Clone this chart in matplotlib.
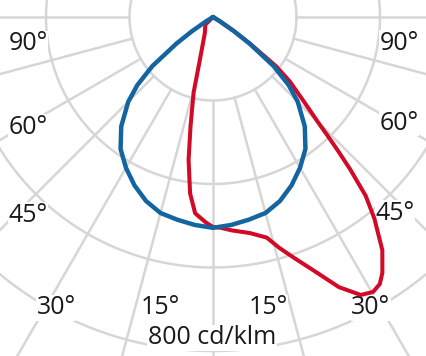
import numpy as np
import matplotlib.pyplot as plt

plt.rcParams['font.family'] = ['Open Sans', 'DejaVu Sans']

# light distribution, angle from nadir (deg) -> intensity (cd/klm)
blue_deg = [0, 5, 10, 15, 20, 25, 30, 35, 40, 45, 48, 51, 54, 56, 58, 60, 90]
blue_cd = [505, 500, 493, 486, 469, 445, 417, 386, 342, 287, 244, 187, 108, 60, 19, 0, 0]

# red plane is asymmetric: negative angles = left side
red_deg = [-90, -60, -45, -27, -17, -14.4, -11.6, -9.7, -7.4, -5.2, -1.9, 0,
           2, 5, 9.7, 13.7, 16, 18.4, 22, 25, 28, 30.2, 32, 33.5, 36, 38.7,
           40.5, 42, 43, 44, 45, 47, 50, 52, 54, 56, 58, 60, 90]
red_cd = [0, 0, 26, 43, 108, 187, 268, 347, 426, 472, 493, 503,
          505, 513, 525, 544, 575, 606, 659, 714, 754, 762, 754, 735, 690, 618,
          563, 491, 441, 395, 354, 299, 240, 192, 115, 60, 19, 0, 0]

ring_values = [200, 400, 600, 800]
spoke_deg = np.arange(-180, 181, 15)

angle_labels = ["90°", "60°", "45°", "30°", "15°", "15°", "30°", "45°", "60°", "90°"]
unit_label = "800 cd/klm"

# pixel layout of the reference (centre of diagram at 213, 17)
s = 200 / 83.5
cx, cy = 213, 17


def px(x, y):
    return (x - cx) * s, (cy - y) * s


label_px = [(28, 44), (28, 127), (28, 215), (56, 308), (160, 308),
            (268, 308), (371, 308), (395, 213), (399, 123), (399, 43)]

fig = plt.figure(figsize=(4.27, 3.56), dpi=100)
ax = fig.add_axes([0, 0, 1, 1])
ax.set_xlim(-cx * s, (427 - cx) * s)
ax.set_ylim(-(356 - cy) * s, cy * s)
ax.axis('off')

grid = '#d6d6d6'
t = np.linspace(0, 2 * np.pi, 500)
for r in ring_values:
    ax.plot(r * np.cos(t), r * np.sin(t), color=grid, lw=1.8, zorder=1)
for a in np.radians(spoke_deg):
    rr = np.array([ring_values[0], 1400])
    ax.plot(rr * np.sin(a), -rr * np.cos(a), color=grid, lw=1.8, zorder=1)


def polar_xy(deg, cd):
    a = np.radians(deg)
    cd = np.asarray(cd, float)
    return cd * np.sin(a), -cd * np.cos(a)


# blue plane is symmetric, mirror it
bd = np.concatenate([-np.array(blue_deg[::-1]), np.array(blue_deg[1:])])
bc = np.concatenate([np.array(blue_cd[::-1]), np.array(blue_cd[1:])])

rx, ry = polar_xy(red_deg, red_cd)
ax.plot(rx, ry, color='#d20a28', lw=2.9, zorder=4, solid_capstyle='round', solid_joinstyle='round')
bx, by = polar_xy(bd, bc)
ax.plot(bx, by, color='#14649f', lw=3.2, zorder=5, solid_capstyle='round', solid_joinstyle='round')

for txt, (x, y) in zip(angle_labels, label_px):
    ax.text(*px(x, y), txt, ha='center', va='center', fontsize=18, color='#1a1a1a',
            bbox=dict(fc='white', ec='none', pad=0.5), zorder=3)
ax.text(*px(212, 338), unit_label, ha='center', va='center', fontsize=18, color='#1a1a1a',
        bbox=dict(fc='white', ec='none', pad=0.5), zorder=3)

fig.savefig('out.png', dpi=100)
